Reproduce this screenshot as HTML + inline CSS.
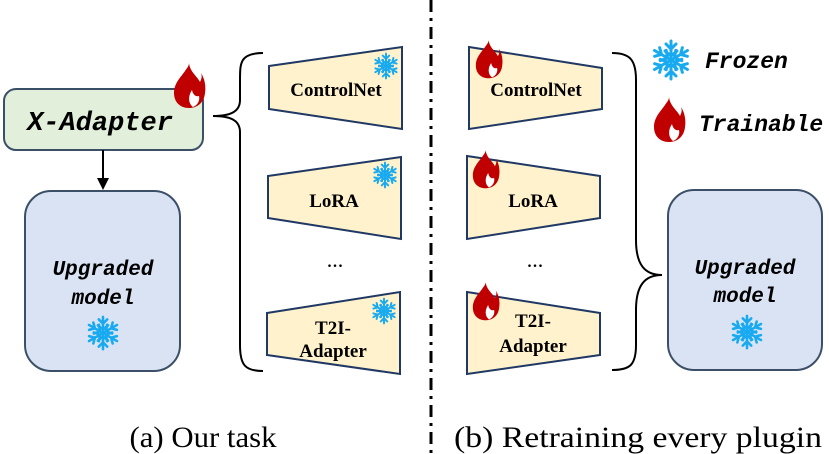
<!DOCTYPE html>
<html><head><meta charset="utf-8"><style>
html,body{margin:0;padding:0;background:#fff;}
svg{display:block;}
.mono{font-family:"Liberation Mono","DejaVu Sans Mono",monospace;font-style:italic;font-weight:bold;}
.ser{font-family:"Liberation Serif",serif;font-weight:bold;font-size:19px;}
</style></head><body>
<svg width="829" height="454" viewBox="0 0 829 454" xmlns="http://www.w3.org/2000/svg">
<defs>
<g id="flame"><path d="M16,0 C17,9 24,13 27,19 C29,15 29,13 28,10 C32,16 33,24 32,30 C31,40 24,45 16,45 C7,45 1,39 1,30 C1,20 8,14 12,8 C14,5 16,3 16,0 Z" fill="#c00000"/>
<path d="M20,44 C15,40 15,33 19,27 C20,32 23,34 26,33 C27,37 25,42 20,44 Z" fill="#fff"/></g>
<g id="snow" stroke="#18aaf0" stroke-width="3" stroke-linecap="round" fill="none">
<g id="arm"><line x1="0" y1="0" x2="0" y2="-19"/><polyline points="-5,-16 0,-11 5,-16"/><polyline points="-6,-9 0,-4 6,-9"/></g>
<use href="#arm" transform="rotate(60)"/><use href="#arm" transform="rotate(120)"/><use href="#arm" transform="rotate(180)"/><use href="#arm" transform="rotate(240)"/><use href="#arm" transform="rotate(300)"/>
</g>
</defs>

<rect x="4" y="89" width="199" height="61" rx="12" fill="#e2efda" stroke="#3b5068" stroke-width="2"/>
<text x="100" y="130" class="mono" font-size="27" text-anchor="middle">X-Adapter</text>
<use href="#flame" x="173" y="63"/>
<line x1="103" y1="150" x2="103" y2="180" stroke="#000" stroke-width="2"/>
<polygon points="97,178 109,178 103,190" fill="#000"/>
<rect x="25" y="191" width="155" height="180" rx="26" fill="#dae3f3" stroke="#3b5068" stroke-width="2"/>
<text x="103" y="275" class="mono" font-size="21" text-anchor="middle">Upgraded</text>
<text x="103" y="304" class="mono" font-size="21" text-anchor="middle">model</text>
<use href="#snow" transform="translate(103,333) scale(0.85)"/>

<path d="M263,53 C240,53 240,63 240,80 L240,100 C240,112 230,116 213,116 C230,116 240,120 240,132 L240,345 C240,365 245,371 263,371" fill="none" stroke="#000" stroke-width="2"/>

<g fill="#fff2cc" stroke="#1f3864" stroke-width="2">
<polygon points="269,66 402,47 402,129 269,109"/>
<polygon points="268,176 401,157 401,239 268,218"/>
<polygon points="267,313 400,292 400,374 267,355"/>
<polygon points="469,47 602,68 602,109 469,129"/>
<polygon points="467,156 600,176 600,218 467,239"/>
<polygon points="467,292 600,313 600,355 467,374"/>
</g>
<text x="336" y="96" class="ser" text-anchor="middle">ControlNet</text>
<text x="334" y="207" class="ser" text-anchor="middle">LoRA</text>
<text x="333" y="334" class="ser" text-anchor="middle">T2I-</text>
<text x="333" y="357" class="ser" text-anchor="middle">Adapter</text>
<text x="335" y="267" font-family="Liberation Serif,serif" font-size="22" text-anchor="middle">...</text>
<use href="#snow" transform="translate(386,66) scale(0.65)"/>
<use href="#snow" transform="translate(385,175) scale(0.65)"/>
<use href="#snow" transform="translate(384,311) scale(0.65)"/>

<line x1="431" y1="0" x2="431" y2="454" stroke="#000" stroke-width="3" stroke-dasharray="12,6,3,6"/>

<text x="536" y="96" class="ser" text-anchor="middle">ControlNet</text>
<text x="533" y="207" class="ser" text-anchor="middle">LoRA</text>
<text x="533" y="327" class="ser" text-anchor="middle">T2I-</text>
<text x="533" y="352" class="ser" text-anchor="middle">Adapter</text>
<text x="535" y="267" font-family="Liberation Serif,serif" font-size="22" text-anchor="middle">...</text>
<use href="#flame" transform="translate(475,40) scale(0.85)"/>
<use href="#flame" transform="translate(472,150) scale(0.85)"/>
<use href="#flame" transform="translate(472,282) scale(0.85)"/>

<path d="M612,53 C630,53 636,60 636,80 L636,240 C636,265 645,275 662,275 C645,275 636,285 636,310 L636,345 C636,365 630,370 612,370" fill="none" stroke="#000" stroke-width="2"/>

<rect x="668" y="190" width="154" height="180" rx="26" fill="#dae3f3" stroke="#3b5068" stroke-width="2"/>
<text x="745" y="274" class="mono" font-size="21" text-anchor="middle">Upgraded</text>
<text x="745" y="302" class="mono" font-size="21" text-anchor="middle">model</text>
<use href="#snow" transform="translate(747,332) scale(0.85)"/>

<use href="#snow" transform="translate(671,60) scale(1.0)"/>
<text x="705" y="68" class="mono" font-size="23">Frozen</text>
<use href="#flame" transform="translate(653,97) scale(1.0)"/>
<text x="699" y="131" class="mono" font-size="23">Trainable</text>

<text x="203" y="447" font-family="Liberation Serif,serif" font-size="30" text-anchor="middle" textLength="147" lengthAdjust="spacingAndGlyphs">(a) Our task</text>
<text x="638" y="447" font-family="Liberation Serif,serif" font-size="30" text-anchor="middle" textLength="368" lengthAdjust="spacingAndGlyphs">(b) Retraining every plugin</text>
</svg>
</body></html>
